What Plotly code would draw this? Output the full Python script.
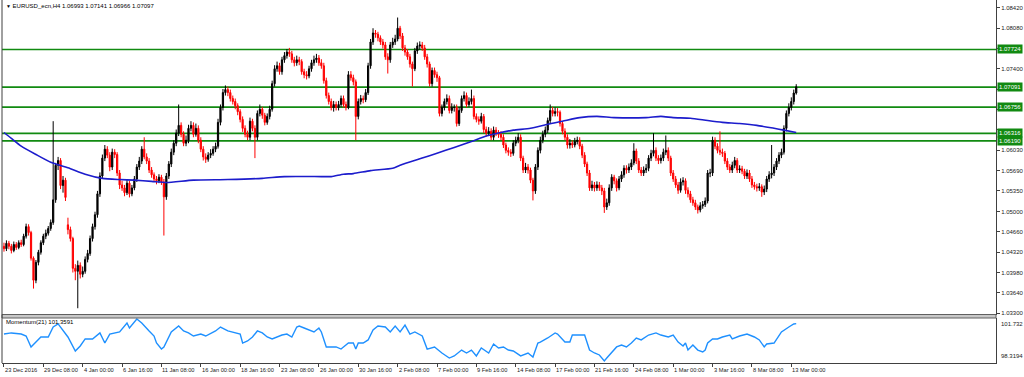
import plotly.graph_objects as go

# ---------------- data ----------------
bars = list(range(323))  # H4 bar index, 23 Dec 2016 16:00 ... 13 Mar 2017 08:00

opens = [
 1.0442,1.0438,1.0447,1.0442,1.0435,1.0445,1.0440,1.0448,1.0445,1.0459,
 1.0475,1.0465,1.0422,1.0385,1.0415,1.0432,1.0448,1.0459,1.0464,1.0472,
 1.0482,1.0520,1.0578,1.0586,1.0544,1.0553,1.0478,1.0470,1.0455,1.0405,
 1.0400,1.0410,1.0395,1.0400,1.0420,1.0430,1.0455,1.0475,1.0495,1.0530,
 1.0560,1.0590,1.0605,1.0595,1.0575,1.0600,1.0596,1.0565,1.0545,1.0540,
 1.0532,1.0548,1.0530,1.0540,1.0555,1.0575,1.0585,1.0605,1.0592,1.0585,
 1.0570,1.0562,1.0555,1.0552,1.0558,1.0550,1.0525,1.0560,1.0580,1.0600,
 1.0615,1.0632,1.0645,1.0630,1.0615,1.0620,1.0640,1.0645,1.0630,1.0640,
 1.0620,1.0605,1.0592,1.0588,1.0595,1.0598,1.0605,1.0610,1.0650,1.0675,
 1.0700,1.0705,1.0700,1.0690,1.0685,1.0678,1.0668,1.0655,1.0640,1.0630,
 1.0625,1.0652,1.0640,1.0625,1.0665,1.0672,1.0662,1.0650,1.0660,1.0672,
 1.0715,1.0740,1.0745,1.0735,1.0755,1.0762,1.0768,1.0765,1.0755,1.0750,
 1.0755,1.0752,1.0735,1.0730,1.0728,1.0740,1.0750,1.0755,1.0758,1.0750,
 1.0745,1.0720,1.0695,1.0685,1.0675,1.0680,1.0675,1.0680,1.0690,1.0680,
 1.0675,1.0730,1.0725,1.0718,1.0660,1.0685,1.0690,1.0688,1.0700,1.0745,
 1.0785,1.0800,1.0798,1.0792,1.0785,1.0780,1.0760,1.0755,1.0780,1.0785,
 1.0790,1.0808,1.0795,1.0775,1.0768,1.0760,1.0748,1.0740,1.0770,1.0778,
 1.0780,1.0775,1.0760,1.0748,1.0715,1.0737,1.0730,1.0725,1.0665,1.0675,
 1.0685,1.0690,1.0670,1.0675,1.0675,1.0648,1.0670,1.0690,1.0695,1.0680,
 1.0685,1.0690,1.0660,1.0655,1.0652,1.0660,1.0638,1.0632,1.0635,1.0625,
 1.0637,1.0632,1.0630,1.0625,1.0612,1.0603,1.0600,1.0598,1.0615,1.0620,
 1.0625,1.0590,1.0570,1.0575,1.0570,1.0553,1.0535,1.0575,1.0603,1.0620,
 1.0630,1.0637,1.0653,1.0670,1.0665,1.0668,1.0667,1.0648,1.0635,1.0625,
 1.0612,1.0615,1.0612,1.0618,1.0620,1.0610,1.0595,1.0580,1.0565,1.0540,
 1.0545,1.0540,1.0545,1.0540,1.0535,1.0508,1.0515,1.0540,1.0558,1.0552,
 1.0540,1.0555,1.0562,1.0573,1.0570,1.0575,1.0582,1.0602,1.0585,1.0570,
 1.0565,1.0570,1.0573,1.0590,1.0598,1.0603,1.0590,1.0586,1.0590,1.0600,
 1.0603,1.0590,1.0565,1.0555,1.0545,1.0536,1.0550,1.0552,1.0536,1.0530,
 1.0520,1.0515,1.0508,1.0503,1.0510,1.0512,1.0518,1.0565,1.0565,1.0620,
 1.0610,1.0603,1.0600,1.0598,1.0585,1.0575,1.0570,1.0578,1.0586,1.0570,
 1.0572,1.0568,1.0560,1.0565,1.0555,1.0545,1.0542,1.0540,1.0542,1.0533,
 1.0538,1.0555,1.0562,1.0565,1.0575,1.0585,1.0595,1.0600,1.0640,1.0665,
 1.0675,1.0685,1.06993]

highs = [
 1.0448,1.0452,1.0451,1.0446,1.0450,1.0449,1.0452,1.0453,1.0463,1.0480,
 1.0479,1.0468,1.0425,1.0419,1.0436,1.0452,1.0463,1.0470,1.0476,1.0487,
 1.0652,1.0582,1.0592,1.0590,1.0560,1.0557,1.0490,1.0475,1.0458,1.0412,
 1.0418,1.0415,1.0408,1.0425,1.0436,1.0460,1.0480,1.0500,1.0535,1.0566,
 1.0596,1.0612,1.0610,1.0600,1.0606,1.0605,1.0600,1.0570,1.0552,1.0545,
 1.0553,1.0552,1.0545,1.0560,1.0580,1.0592,1.0610,1.0625,1.0598,1.0590,
 1.0575,1.0566,1.0560,1.0563,1.0562,1.0555,1.0565,1.0585,1.0606,1.0620,
 1.0638,1.0680,1.0650,1.0635,1.0628,1.0646,1.0652,1.0650,1.0648,1.0645,
 1.0625,1.0610,1.0598,1.0600,1.0605,1.0610,1.0616,1.0656,1.0680,1.0706,
 1.0712,1.0710,1.0705,1.0695,1.0690,1.0682,1.0672,1.0660,1.0645,1.0636,
 1.0658,1.0656,1.0645,1.0670,1.0680,1.0676,1.0666,1.0665,1.0678,1.0720,
 1.0746,1.0752,1.0750,1.0760,1.0768,1.0773,1.0775,1.0770,1.0760,1.0762,
 1.0760,1.0756,1.0740,1.0736,1.0745,1.0755,1.0762,1.0765,1.0763,1.0756,
 1.0750,1.0725,1.0700,1.0690,1.0686,1.0685,1.0686,1.0695,1.0695,1.0685,
 1.0736,1.0736,1.0730,1.0722,1.0690,1.0696,1.0695,1.0706,1.0750,1.0790,
 1.0808,1.0805,1.0802,1.0796,1.0790,1.0785,1.0766,1.0785,1.0792,1.0797,
 1.0826,1.0812,1.0800,1.0780,1.0773,1.0765,1.0752,1.0775,1.0784,1.0786,
 1.0785,1.0780,1.0765,1.0752,1.0742,1.0742,1.0735,1.0728,1.0680,1.0690,
 1.0697,1.0695,1.0682,1.0680,1.0680,1.0676,1.0695,1.0702,1.0700,1.0692,
 1.0705,1.0695,1.0665,1.0660,1.0666,1.0664,1.0643,1.0642,1.0640,1.0643,
 1.0642,1.0637,1.0635,1.0630,1.0616,1.0608,1.0605,1.0620,1.0626,1.0632,
 1.0630,1.0594,1.0582,1.0580,1.0574,1.0557,1.0580,1.0608,1.0626,1.0636,
 1.0643,1.0658,1.0680,1.0676,1.0675,1.0674,1.0670,1.0652,1.0640,1.0630,
 1.0622,1.0620,1.0624,1.0626,1.0625,1.0614,1.0600,1.0584,1.0570,1.0552,
 1.0550,1.0551,1.0550,1.0545,1.0540,1.0522,1.0546,1.0563,1.0562,1.0556,
 1.0560,1.0568,1.0578,1.0578,1.0581,1.0588,1.0615,1.0606,1.0590,1.0575,
 1.0576,1.0580,1.0595,1.0604,1.0632,1.0608,1.0595,1.0596,1.0606,1.0628,
 1.0608,1.0594,1.0570,1.0560,1.0550,1.0556,1.0558,1.0556,1.0541,1.0535,
 1.0525,1.0520,1.0512,1.0516,1.0518,1.0524,1.0570,1.0572,1.0626,1.0625,
 1.0615,1.0635,1.0606,1.0602,1.0590,1.0580,1.0584,1.0592,1.0590,1.0578,
 1.0577,1.0572,1.0571,1.0570,1.0560,1.0550,1.0547,1.0548,1.0546,1.0544,
 1.0560,1.0568,1.0612,1.0580,1.0590,1.0600,1.0606,1.0645,1.0670,1.0682,
 1.0692,1.0705,1.07141]

lows = [
 1.0433,1.0434,1.0437,1.0430,1.0432,1.0436,1.0437,1.0441,1.0442,1.0455,
 1.0460,1.0418,1.0371,1.0380,1.0410,1.0428,1.0444,1.0454,1.0460,1.0468,
 1.0478,1.0515,1.0570,1.0538,1.0532,1.0518,1.0462,1.0450,1.0398,1.0385,
 1.0338,1.0388,1.0390,1.0396,1.0415,1.0426,1.0450,1.0470,1.0490,1.0525,
 1.0555,1.0585,1.0590,1.0568,1.0570,1.0590,1.0560,1.0538,1.0535,1.0526,
 1.0528,1.0524,1.0526,1.0536,1.0550,1.0570,1.0580,1.0588,1.0580,1.0565,
 1.0557,1.0550,1.0546,1.0548,1.0545,1.0460,1.0520,1.0555,1.0575,1.0595,
 1.0610,1.0627,1.0625,1.0610,1.0610,1.0615,1.0635,1.0625,1.0626,1.0615,
 1.0600,1.0586,1.0582,1.0584,1.0590,1.0594,1.0600,1.0606,1.0645,1.0670,
 1.0695,1.0694,1.0685,1.0680,1.0672,1.0662,1.0650,1.0634,1.0625,1.0620,
 1.0620,1.0635,1.0590,1.0620,1.0660,1.0656,1.0645,1.0646,1.0655,1.0668,
 1.0710,1.0735,1.0730,1.0730,1.0750,1.0757,1.0760,1.0750,1.0744,1.0745,
 1.0746,1.0730,1.0724,1.0722,1.0724,1.0735,1.0745,1.0750,1.0745,1.0740,
 1.0715,1.0690,1.0680,1.0670,1.0668,1.0670,1.0670,1.0676,1.0675,1.0670,
 1.0672,1.0720,1.0712,1.0620,1.0655,1.0680,1.0682,1.0684,1.0696,1.0740,
 1.0780,1.0792,1.0786,1.0780,1.0774,1.0755,1.0732,1.0750,1.0775,1.0780,
 1.0786,1.0790,1.0770,1.0762,1.0755,1.0742,1.0710,1.0736,1.0765,1.0772,
 1.0770,1.0755,1.0742,1.0710,1.0710,1.0725,1.0718,1.0660,1.0660,1.0670,
 1.0680,1.0665,1.0665,1.0668,1.0643,1.0644,1.0666,1.0685,1.0675,1.0676,
 1.0680,1.0655,1.0650,1.0646,1.0648,1.0632,1.0626,1.0627,1.0620,1.0620,
 1.0627,1.0624,1.0620,1.0607,1.0598,1.0594,1.0592,1.0594,1.0610,1.0615,
 1.0585,1.0565,1.0565,1.0564,1.0548,1.0519,1.0530,1.0570,1.0598,1.0615,
 1.0625,1.0632,1.0648,1.0660,1.0660,1.0660,1.0643,1.0630,1.0620,1.0606,
 1.0606,1.0607,1.0608,1.0613,1.0605,1.0590,1.0575,1.0560,1.0535,1.0535,
 1.0534,1.0535,1.0535,1.0528,1.0498,1.0503,1.0510,1.0535,1.0546,1.0534,
 1.0536,1.0550,1.0557,1.0564,1.0565,1.0570,1.0578,1.0580,1.0565,1.0560,
 1.0560,1.0565,1.0568,1.0585,1.0593,1.0585,1.0580,1.0581,1.0585,1.0595,
 1.0585,1.0560,1.0550,1.0540,1.0530,1.0532,1.0544,1.0530,1.0524,1.0515,
 1.0510,1.0503,1.0497,1.0499,1.0505,1.0508,1.0514,1.0558,1.0560,1.0605,
 1.0598,1.0595,1.0592,1.0580,1.0570,1.0565,1.0565,1.0573,1.0565,1.0565,
 1.0563,1.0555,1.0555,1.0550,1.0540,1.0537,1.0534,1.0535,1.0525,1.0528,
 1.0533,1.0550,1.0556,1.0560,1.0570,1.0580,1.0590,1.0596,1.0635,1.0660,
 1.0670,1.0680,1.06966]

closes = [
 1.0438,1.0447,1.0442,1.0435,1.0445,1.0440,1.0448,1.0445,1.0459,1.0475,
 1.0465,1.0422,1.0385,1.0415,1.0432,1.0448,1.0459,1.0464,1.0472,1.0482,
 1.0520,1.0578,1.0586,1.0544,1.0553,1.0524,1.0470,1.0455,1.0405,1.0400,
 1.0410,1.0395,1.0400,1.0420,1.0430,1.0455,1.0475,1.0495,1.0530,1.0560,
 1.0590,1.0605,1.0595,1.0575,1.0600,1.0596,1.0565,1.0545,1.0540,1.0532,
 1.0548,1.0530,1.0540,1.0555,1.0575,1.0585,1.0605,1.0592,1.0585,1.0570,
 1.0562,1.0555,1.0552,1.0558,1.0550,1.0525,1.0560,1.0580,1.0600,1.0615,
 1.0632,1.0645,1.0630,1.0615,1.0620,1.0640,1.0645,1.0630,1.0640,1.0620,
 1.0605,1.0592,1.0588,1.0595,1.0598,1.0605,1.0610,1.0650,1.0675,1.0700,
 1.0705,1.0700,1.0690,1.0685,1.0678,1.0668,1.0655,1.0640,1.0630,1.0625,
 1.0652,1.0640,1.0625,1.0665,1.0672,1.0662,1.0650,1.0660,1.0672,1.0715,
 1.0740,1.0745,1.0735,1.0755,1.0762,1.0768,1.0765,1.0755,1.0750,1.0755,
 1.0752,1.0735,1.0730,1.0728,1.0740,1.0750,1.0755,1.0758,1.0750,1.0745,
 1.0720,1.0695,1.0685,1.0675,1.0680,1.0675,1.0680,1.0690,1.0680,1.0675,
 1.0730,1.0725,1.0718,1.0660,1.0685,1.0690,1.0688,1.0700,1.0745,1.0785,
 1.0800,1.0798,1.0792,1.0785,1.0780,1.0760,1.0755,1.0780,1.0785,1.0790,
 1.0808,1.0795,1.0775,1.0768,1.0760,1.0748,1.0740,1.0770,1.0778,1.0780,
 1.0775,1.0760,1.0748,1.0715,1.0737,1.0730,1.0725,1.0665,1.0675,1.0685,
 1.0690,1.0670,1.0675,1.0675,1.0648,1.0670,1.0690,1.0695,1.0680,1.0685,
 1.0690,1.0660,1.0655,1.0652,1.0660,1.0638,1.0632,1.0635,1.0625,1.0637,
 1.0632,1.0630,1.0625,1.0612,1.0603,1.0600,1.0598,1.0615,1.0620,1.0625,
 1.0590,1.0570,1.0575,1.0570,1.0553,1.0535,1.0575,1.0603,1.0620,1.0630,
 1.0637,1.0653,1.0670,1.0665,1.0668,1.0667,1.0648,1.0635,1.0625,1.0612,
 1.0615,1.0612,1.0618,1.0620,1.0610,1.0595,1.0580,1.0565,1.0540,1.0545,
 1.0540,1.0545,1.0540,1.0535,1.0508,1.0515,1.0540,1.0558,1.0552,1.0540,
 1.0555,1.0562,1.0573,1.0570,1.0575,1.0582,1.0602,1.0585,1.0570,1.0565,
 1.0570,1.0573,1.0590,1.0598,1.0603,1.0590,1.0586,1.0590,1.0600,1.0603,
 1.0590,1.0565,1.0555,1.0545,1.0536,1.0550,1.0552,1.0536,1.0530,1.0520,
 1.0515,1.0508,1.0503,1.0510,1.0512,1.0518,1.0565,1.0565,1.0620,1.0610,
 1.0603,1.0600,1.0598,1.0585,1.0575,1.0570,1.0578,1.0586,1.0570,1.0572,
 1.0568,1.0560,1.0565,1.0555,1.0545,1.0542,1.0540,1.0542,1.0533,1.0538,
 1.0555,1.0562,1.0565,1.0575,1.0585,1.0595,1.0600,1.0640,1.0665,1.0675,
 1.0685,1.06993,1.07097]

# moving average (blue line) read at sample bars
ma_bars = [0, 3, 7, 13, 19, 26, 33, 40, 47, 53, 60, 66, 77, 91, 105, 114, 129, 133, 138,
           142, 149, 158, 161, 170, 176, 183, 190, 196, 201, 207, 214, 221, 227, 234, 241,
           248, 261, 267, 272, 279, 286, 292, 299, 306, 313, 317, 322]
ma_vals = [1.0633, 1.0623, 1.0610, 1.0596, 1.0583, 1.0574, 1.0563, 1.0556, 1.0554, 1.0553,
           1.0551, 1.0549, 1.0553, 1.0554, 1.0556, 1.0559, 1.0559, 1.0559, 1.0563, 1.0564,
           1.0569, 1.0573, 1.0578, 1.0590, 1.0598, 1.0608, 1.0618, 1.0627, 1.0632, 1.0637,
           1.0640, 1.0647, 1.0652, 1.0658, 1.0660, 1.0658, 1.0658, 1.0660, 1.0658, 1.0657,
           1.0653, 1.0650, 1.0648, 1.0645, 1.0640, 1.0637, 1.0633]

# Momentum(21) read at sample bars
mom_bars = [0, 3, 7, 9, 11, 15, 18, 20, 22, 24, 26, 29, 31, 33, 36, 39, 41, 43, 45, 47,
            50, 51, 54, 56, 59, 61, 62, 64, 65, 68, 71, 73, 75, 77, 80, 82, 86, 88, 91, 94,
            96, 97, 99, 101, 103, 105, 107, 109, 111, 113, 115, 117, 119, 120, 122, 124, 126, 128, 129, 131,
            133, 135, 137, 140, 142, 143, 144, 146, 148, 150, 152, 155, 157, 159, 161, 163, 165, 167, 170, 172,
            175, 178, 181, 183, 186, 188, 190, 192, 194, 197, 199, 201, 203, 205, 207, 210, 213, 215, 217, 218,
            221, 224, 225, 228, 230, 231, 234, 236, 238, 240, 242, 244, 245, 247, 249, 251, 253, 255, 257, 259,
            262, 265, 267, 270, 272, 274, 276, 277, 278, 280, 282, 284, 285, 286, 288, 290, 292, 295, 296, 299,
            302, 305, 307, 309, 310, 313, 314, 316, 319, 321, 322]
mom_vals = [100.51, 100.60, 100.51, 100.35, 99.46, 100.27, 100.27, 101.08, 101.33, 100.84,
            100.27, 99.13, 99.54, 100.11, 100.11, 100.60, 99.78, 100.51, 100.60, 100.68,
            101.41, 101.00, 101.73, 101.41, 100.76, 100.35, 99.78, 99.29, 99.46, 100.68,
            101.16, 100.76, 100.60, 100.35, 100.51, 100.35, 100.76, 101.08, 100.76, 100.60,
            100.51, 99.78, 99.95, 100.27, 100.76, 100.60, 100.27, 100.11, 100.27, 100.43,
            100.51, 100.27, 101.08, 101.16, 101.00, 100.84, 100.68, 101.00, 100.68, 99.46,
            99.46, 99.46, 99.29, 99.78, 99.78, 99.29, 99.78, 99.78, 100.03, 100.84,
            101.16, 101.08, 100.68, 101.16, 100.68, 101.24, 100.51, 100.68, 100.35, 99.29,
            99.46, 98.97, 98.56, 98.73, 99.21, 98.97, 99.21, 98.73, 99.38, 98.97,
            99.70, 99.38, 99.46, 99.21, 99.13, 98.73, 98.97, 98.64, 99.78, 99.86,
            100.19, 100.60, 100.51, 99.86, 99.86, 100.43, 100.43, 100.43, 99.21, 98.97,
            98.81, 98.32, 98.56, 99.05, 99.46, 99.62, 99.46, 99.78, 100.19, 100.03,
            100.43, 100.60, 100.43, 100.27, 100.43, 99.86, 99.54, 99.78, 99.21, 99.62,
            99.21, 99.05, 99.21, 99.78, 100.11, 100.11, 100.27, 100.43, 100.11, 100.35,
            100.51, 100.27, 100.03, 99.46, 99.70, 99.78, 100.11, 100.68, 101.08, 101.33, 101.36]

levels = [1.07724, 1.07091, 1.06756, 1.06316, 1.06190]

price_ticks = [1.08420, 1.08080, 1.07740, 1.07400, 1.07060, 1.06720, 1.06380, 1.06030,
               1.05690, 1.05350, 1.05000, 1.04660, 1.04320, 1.03980, 1.03640, 1.03300]
# tick labels hidden behind the level boxes in the reference
hidden_ticks = [1.07740, 1.07060, 1.06720, 1.06380]

time_label_bars = [0, 16, 32, 48, 64, 80, 96, 112, 128, 144, 160, 176, 192, 208, 224,
                   240, 256, 272, 288, 304, 320]
time_labels = ["23 Dec 2016", "29 Dec 08:00", "4 Jan 00:00", "6 Jan 16:00", "11 Jan 08:00",
               "16 Jan 00:00", "18 Jan 16:00", "23 Jan 08:00", "26 Jan 00:00", "30 Jan 16:00",
               "2 Feb 08:00", "7 Feb 00:00", "9 Feb 16:00", "14 Feb 08:00", "17 Feb 00:00",
               "21 Feb 16:00", "24 Feb 08:00", "1 Mar 00:00", "3 Mar 16:00", "8 Mar 08:00",
               "13 Mar 00:00"]

mom_max, mom_min, mom_last = 101.732, 98.3194, 101.3591
title_text = "EURUSD_ecn,H4 1.06993 1.07141 1.06966 1.07097"

# ---------------- figure ----------------
FONT = "Liberation Sans"
AX = "#404040"
GREEN = "#118a11"

fig = go.Figure()

fig.add_trace(go.Candlestick(
    x=bars, open=opens, high=highs, low=lows, close=closes,
    xaxis="x", yaxis="y",
    increasing=dict(line=dict(color="#000000", width=1), fillcolor="#000000"),
    decreasing=dict(line=dict(color="#ff0000", width=1), fillcolor="#ff0000"),
    whiskerwidth=0, showlegend=False, hoverinfo="skip"))

fig.add_trace(go.Scatter(
    x=ma_bars, y=ma_vals, mode="lines", xaxis="x", yaxis="y",
    line=dict(color="#1c1ccc", width=1.6, shape="spline", smoothing=0.6),
    showlegend=False, hoverinfo="skip"))

fig.add_trace(go.Scatter(
    x=mom_bars, y=mom_vals, mode="lines", xaxis="x2", yaxis="y2",
    line=dict(color="#1e90ff", width=1.4),
    showlegend=False, hoverinfo="skip"))

PLOT_H = 363.0
def py(px):  # pixel row -> paper y
    return (PLOT_H - px) / PLOT_H

xr = [-0.8, 403.2]

shapes = []
for lv in levels:
    shapes.append(dict(type="line", xref="paper", yref="y", x0=0, x1=1, y0=lv, y1=lv,
                       line=dict(color=GREEN, width=1.6), layer="below"))
# panel separator
shapes.append(dict(type="rect", xref="paper", yref="paper", x0=0, x1=1,
                   y0=py(318), y1=py(314.5), fillcolor="#c8c8c8",
                   line=dict(color="#606060", width=1), layer="above"))
# left border
shapes.append(dict(type="line", xref="paper", yref="paper", x0=0, x1=0, y0=0, y1=1,
                   line=dict(color=AX, width=1)))

annotations = []
annotations.append(dict(xref="paper", yref="paper", x=0.002, y=py(6), xanchor="left",
                        yanchor="middle", showarrow=False,
                        text="<span style='font-size:5px'>▼</span> " + title_text,
                        font=dict(family=FONT, size=6, color="#000000")))
annotations.append(dict(xref="paper", yref="paper", x=0.002, y=py(322), xanchor="left",
                        yanchor="middle", showarrow=False,
                        text=f"Momentum(21) {mom_last:.4f}",
                        font=dict(family=FONT, size=6, color="#000000")))
annotations.append(dict(xref="paper", yref="y2", x=1, xshift=3, y=mom_max, xanchor="left",
                        yanchor="top", showarrow=False, text=f"{mom_max:.3f}",
                        font=dict(family=FONT, size=6, color="#222222")))
annotations.append(dict(xref="paper", yref="y2", x=1, xshift=3, y=mom_min, xanchor="left",
                        yanchor="bottom", showarrow=False, text=f"{mom_min:.4f}",
                        font=dict(family=FONT, size=6, color="#222222")))
for b, t in zip(time_label_bars, time_labels):
    annotations.append(dict(xref="x2", yref="paper", x=b, xshift=-1, y=py(365), xanchor="left",
                            yanchor="top", showarrow=False, text=t,
                            font=dict(family=FONT, size=5.7, color="#222222")))
for lv in levels:
    annotations.append(dict(xref="paper", yref="y", x=1, xshift=1, y=lv, xanchor="left",
                            yanchor="middle", showarrow=False, text=f"{lv:.5f}",
                            bgcolor=GREEN, borderpad=1,
                            font=dict(family=FONT, size=6, color="#ffffff")))

fig.update_layout(
    width=1024, height=377,
    margin=dict(l=2, r=26, t=0, b=14),
    paper_bgcolor="#ffffff", plot_bgcolor="#ffffff",
    showlegend=False,
    xaxis=dict(domain=[0, 1], range=xr, anchor="y", showticklabels=False, showgrid=False,
               zeroline=False, showline=False, ticks="", rangeslider=dict(visible=False)),
    yaxis=dict(domain=[py(314.5), 1], range=[1.03275, 1.08554], side="right", anchor="x",
               tickvals=price_ticks,
               ticktext=["" if v in hidden_ticks else f"{v:.5f}" for v in price_ticks],
               ticks="outside", ticklen=3, tickcolor=AX, showline=True, linecolor=AX,
               linewidth=1, showgrid=False, zeroline=False,
               tickfont=dict(family=FONT, size=6, color="#222222")),
    xaxis2=dict(domain=[0, 1], range=xr, anchor="y2", tickvals=time_label_bars,
                showticklabels=False, ticks="outside", ticklen=3, tickcolor=AX,
                showline=True, linecolor=AX, linewidth=1, showgrid=False, zeroline=False),
    yaxis2=dict(domain=[0, py(318)], range=[98.157, 101.813], side="right", anchor="x2",
                showticklabels=False, ticks="", showline=True, linecolor=AX, linewidth=1,
                showgrid=False, zeroline=False),
    shapes=shapes,
    annotations=annotations,
)

fig.write_html("out.html",
               config={"displayModeBar": False},
               post_script="document.body.style.margin='0';document.body.style.padding='0';"
                           "document.body.style.overflow='hidden';")
